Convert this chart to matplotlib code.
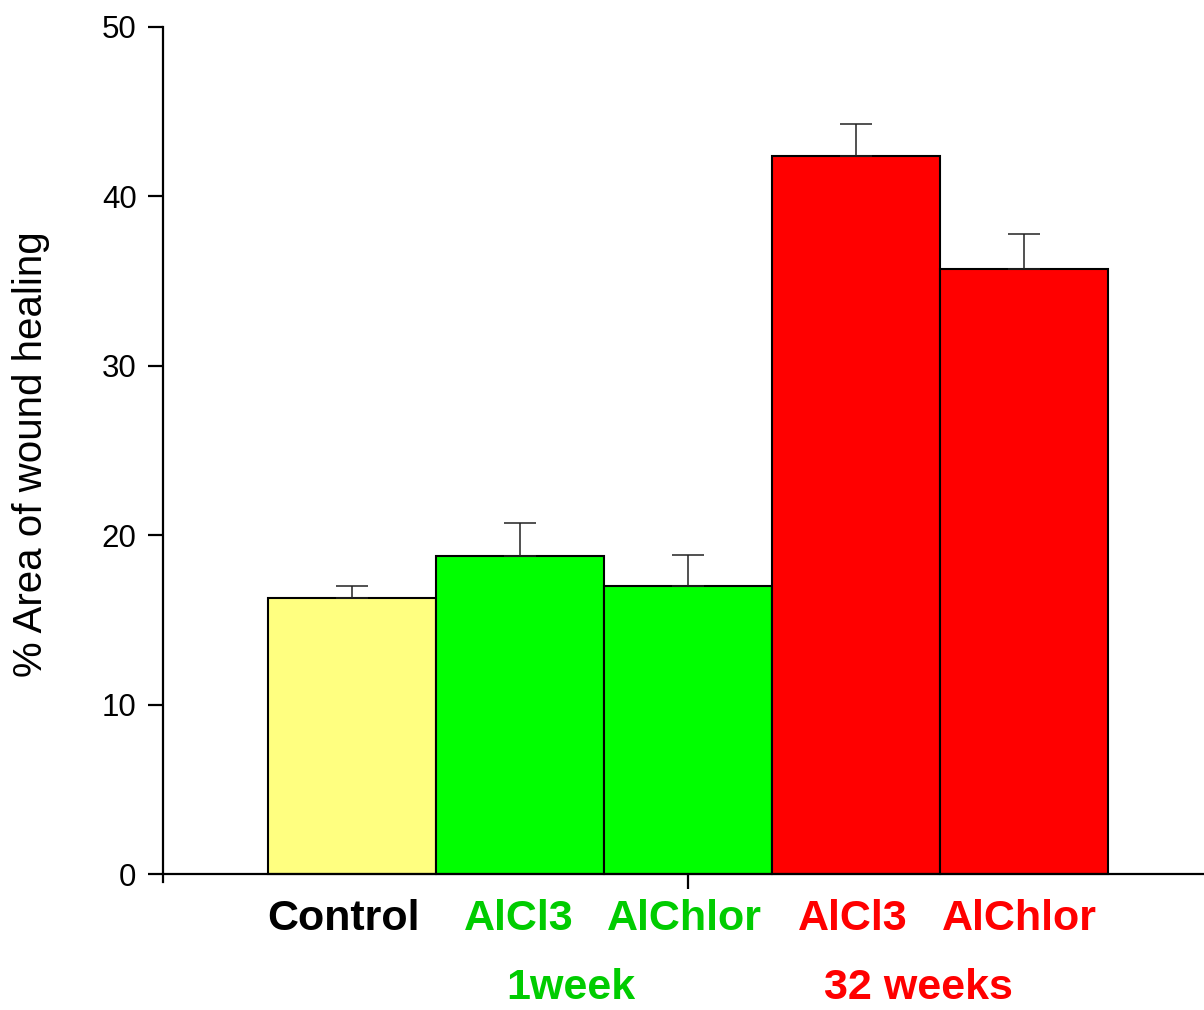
import numpy as np
import matplotlib
matplotlib.use('agg')
from matplotlib import pyplot as plt
from matplotlib import transforms

plt.rcParams['font.family'] = ['Liberation Sans', 'DejaVu Sans']

# data
labels = ['Control', 'AlCl3', 'AlChlor', 'AlCl3', 'AlChlor']
values = [16.3, 18.8, 17.0, 42.4, 35.7]
errors = [0.7, 1.95, 1.85, 1.85, 2.1]
bar_colors = ['#FFFF80', '#00FF00', '#00FF00', '#FF0000', '#FF0000']
label_colors = ['black', '#00CC00', '#00CC00', '#FF0000', '#FF0000']
groups = ['1week', '32 weeks']
group_colors = ['#00CC00', '#FF0000']

# label placement (in bar units, relative to the axis)
label_x = [-0.05, 0.99, 1.98, 2.98, 3.97]
group_x = [1.30, 3.37]

W, H = 1204, 1010
fig = plt.figure(figsize=(W / 100, H / 100), dpi=100)
ax = fig.add_axes([163 / W, 1 - 882 / H, (1204 - 163) / W, (882 - 27) / H])

x = np.arange(len(values))
ax.bar(x, values, width=1.0, color=bar_colors, edgecolor='black', linewidth=1.5, zorder=2)
ax.errorbar(x, values, yerr=[np.zeros(len(errors)), errors], fmt='none',
            ecolor='#222222', elinewidth=1.1, capsize=11.5, capthick=1.1, zorder=3)

ax.set_xlim(-1.125, 5.071)
ax.set_ylim(-0.47, 50)
ax.set_yticks([0, 10, 20, 30, 40, 50])
ax.set_xticks([2])
ax.set_xticklabels([''])

for s in ['top', 'right']:
    ax.spines[s].set_visible(False)
for s in ['left', 'bottom']:
    ax.spines[s].set_linewidth(1.6)
ax.spines['bottom'].set_position(('data', 0))

ax.tick_params(axis='both', direction='out', length=11, width=1.6, labelsize=22.5, pad=8)
ax.set_ylabel('% Area of wound healing', fontsize=29)
ax.yaxis.set_label_coords(-(163 - 50) / (1204 - 163), 0.5)

tr = transforms.blended_transform_factory(ax.transData, fig.transFigure)

# category labels under bars
for xi, lab, c in zip(label_x, labels, label_colors):
    ax.text(xi, 1 - 919 / H, lab, transform=tr, color=c,
            fontsize=31, fontweight='bold', ha='center', va='center')

# group labels
for xi, g, c in zip(group_x, groups, group_colors):
    ax.text(xi, 1 - 988 / H, g, transform=tr, color=c,
            fontsize=31, fontweight='bold', ha='center', va='center')

plt.savefig('out.png', dpi=100)
